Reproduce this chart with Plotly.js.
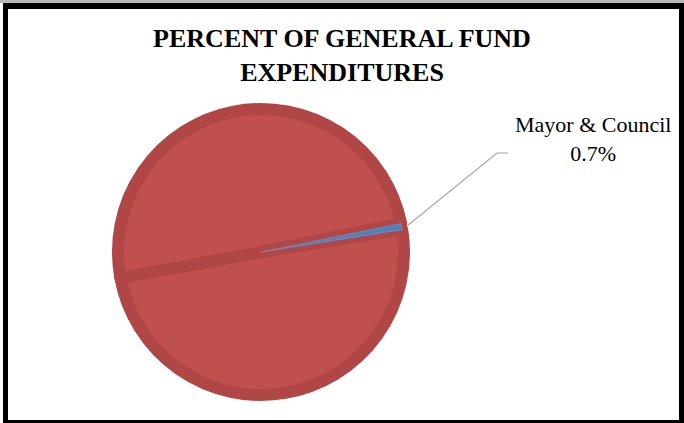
<!DOCTYPE html>
<html>
<head>
<meta charset="utf-8">
<script src="https://cdn.plot.ly/plotly-3.0.1.min.js"></script>
<style>
html,body{margin:0;padding:0;background:#fff;}
#chart{width:684px;height:423px;}
</style>
</head>
<body>
<div id="chart"></div>
<script>
// Data
const labels = ["Other expenditures (lower)", "Other expenditures (upper)", "Mayor & Council"];
const values = [49.6, 49.7, 0.7];
const sliceColors = ["#c0504d", "#c0504d", "#4f81bd"];
const borderColors = ["#b04646", "#b04646", "#7f9fcf"];
const borderWidths = [12, 12, 0.5];
const labeledSlice = 2; // Mayor & Council
const titleText = "PERCENT OF GENERAL FUND<br>EXPENDITURES";

const W = 684, H = 423;
const cx = 261, cy = 252, R = 143;   // pie centre & radius in px
const rotation = 81;

const px2x = p => p / W;
const px2y = p => 1 - p / H;

// leader line from the labelled slice, computed from the data
const total = values.reduce((a, b) => a + b, 0);
let before = 0;
for (let i = 0; i < labeledSlice; i++) before += values[i];
const midDeg = rotation + (before + values[labeledSlice] / 2) / total * 360;
const mid = midDeg * Math.PI / 180;
const rOut = R + 6;
const sx = cx + rOut * Math.sin(mid), sy = cy - rOut * Math.cos(mid);
const elbowX = 497, elbowY = 153, endX = 508;
const leaderPath = `M ${px2x(sx)} ${px2y(sy)} L ${px2x(elbowX)} ${px2y(elbowY)} L ${px2x(endX)} ${px2y(elbowY)}`;

const pct = (values[labeledSlice] / total * 100).toFixed(1) + "%";

const trace = {
  type: "pie",
  labels: labels,
  values: values,
  sort: false,
  direction: "clockwise",
  rotation: rotation,
  textinfo: "none",
  hoverinfo: "label+percent",
  showlegend: false,
  marker: {colors: sliceColors, line: {color: borderColors, width: borderWidths}},
  domain: {x: [px2x(cx - R), px2x(cx + R)], y: [px2y(cy + R), px2y(cy - R)]}
};

function blk(x0, y0, x1, y1, c) {
  return {type: "rect", xref: "paper", yref: "paper", x0: px2x(x0), x1: px2x(x1), y0: px2y(y1), y1: px2y(y0),
          fillcolor: c, line: {width: 0}, layer: "above"};
}

const layout = {
  width: W, height: H,
  margin: {l: 0, r: 0, t: 0, b: 0},
  paper_bgcolor: "#ffffff",
  title: {
    text: titleText,
    font: {family: "Liberation Serif, Times New Roman, serif", size: 26, color: "#000", weight: "bold"},
    x: 0.5, xanchor: "center",
    y: 1 - 47 / H, yanchor: "top", yref: "container"
  },
  annotations: [{
    xref: "paper", yref: "paper",
    x: px2x(593), y: px2y(139), xanchor: "center", yanchor: "middle",
    text: labels[labeledSlice] + "<br>" + pct,
    showarrow: false,
    font: {family: "Liberation Serif, Times New Roman, serif", size: 22, color: "#000"}
  }],
  shapes: [
    {type: "path", xref: "paper", yref: "paper", path: leaderPath, line: {color: "#a6a6a6", width: 1.2}},
    blk(0, 0, 684, 3, "#b8b8b8"),
    blk(3, 3, 684, 9, "#000"),
    blk(3, 3, 8, 423, "#000"),
    blk(679, 3, 684, 423, "#000"),
    blk(3, 420, 684, 423, "#000")
  ]
};

Plotly.newPlot("chart", [trace], layout, {displayModeBar: false, staticPlot: true});
</script>
</body>
</html>
